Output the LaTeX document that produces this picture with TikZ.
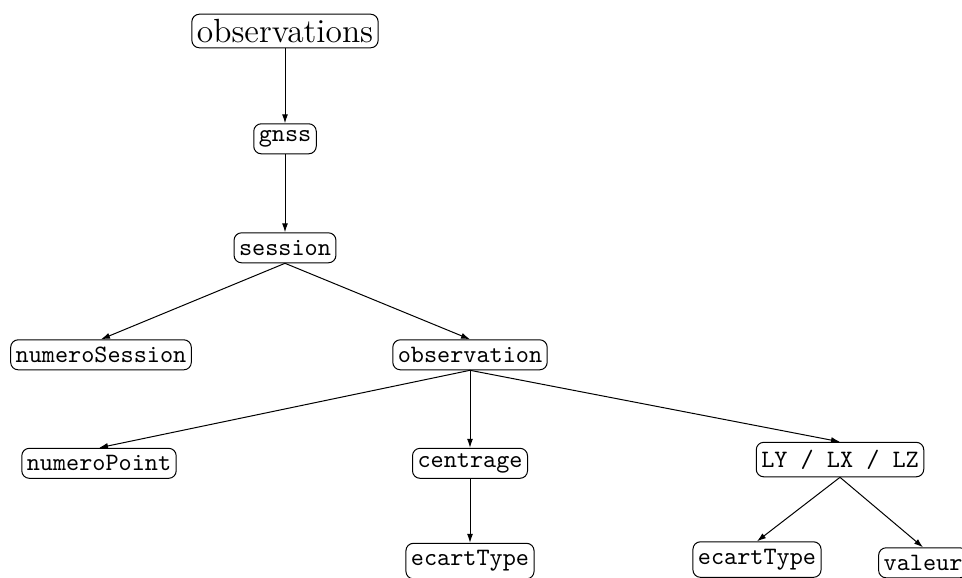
\documentclass[tikz,border=0pt]{standalone}
\usepackage{tikz}
\usetikzlibrary{arrows.meta, positioning}

\begin{document}
\begin{tikzpicture}[
    node distance=30pt,
    root/.style={
        draw,
        rounded corners=3pt,
        inner sep=2pt,
        font=\fontsize{13.4}{16}\selectfont
    },
    leaf/.style={
        draw,
        rounded corners=3pt,
        inner xsep=2pt,
        inner ysep=2pt,
        minimum height=12pt,
        font=\ttfamily
    },
    line/.style={draw, -{Latex[length=3.6pt,width=2.4pt]}}
]
\useasboundingbox (-114pt,12.4pt) rectangle (270.8pt,-218.4pt);

\node[root] (obs) {observations};
\node[leaf, below=30pt of obs] (gnss) {gnss};
\node[leaf, below=31.2pt of gnss] (session) {session};

\node[leaf, below=30.4pt of session, xshift=-73.6pt] (numSession) {numeroSession};
\node[leaf, below=30.4pt of session, xshift=74pt] (observation) {observation};

\node[leaf, below=31pt of observation, xshift=-148.4pt] (numPoint) {numeroPoint};
\node[leaf, below=31pt of observation] (centrage) {centrage};
\node[leaf, below=28.6pt of observation, xshift=148pt, minimum height=13.8pt] (lxyz) {LY / LX / LZ};

% bottom row runs past the lower edge
\node[leaf, below=25.6pt of centrage, minimum height=14.2pt] (ecartC) {ecartType};
\node[leaf, below=25.6pt of lxyz, xshift=-33.2pt, minimum height=14.2pt] (ecartL) {ecartType};
\node[leaf, below=28pt of lxyz, xshift=33.2pt] (valeur) {valeur};

\draw[line] (obs) -- (gnss);
\draw[line] (gnss) -- (session);
\draw[line] (session.south) -- (numSession.north);
\draw[line] (session.south) -- (observation.north);
\draw[line] (observation.south) -- (numPoint.north);
\draw[line] (observation.south) -- (centrage.north);
\draw[line] (observation.south) -- (lxyz.north);
\draw[line] (centrage) -- (ecartC);
\draw[line] (lxyz.south) -- (ecartL.north);
\draw[line] (lxyz.south) -- (valeur.north);

\end{tikzpicture}
\end{document}
